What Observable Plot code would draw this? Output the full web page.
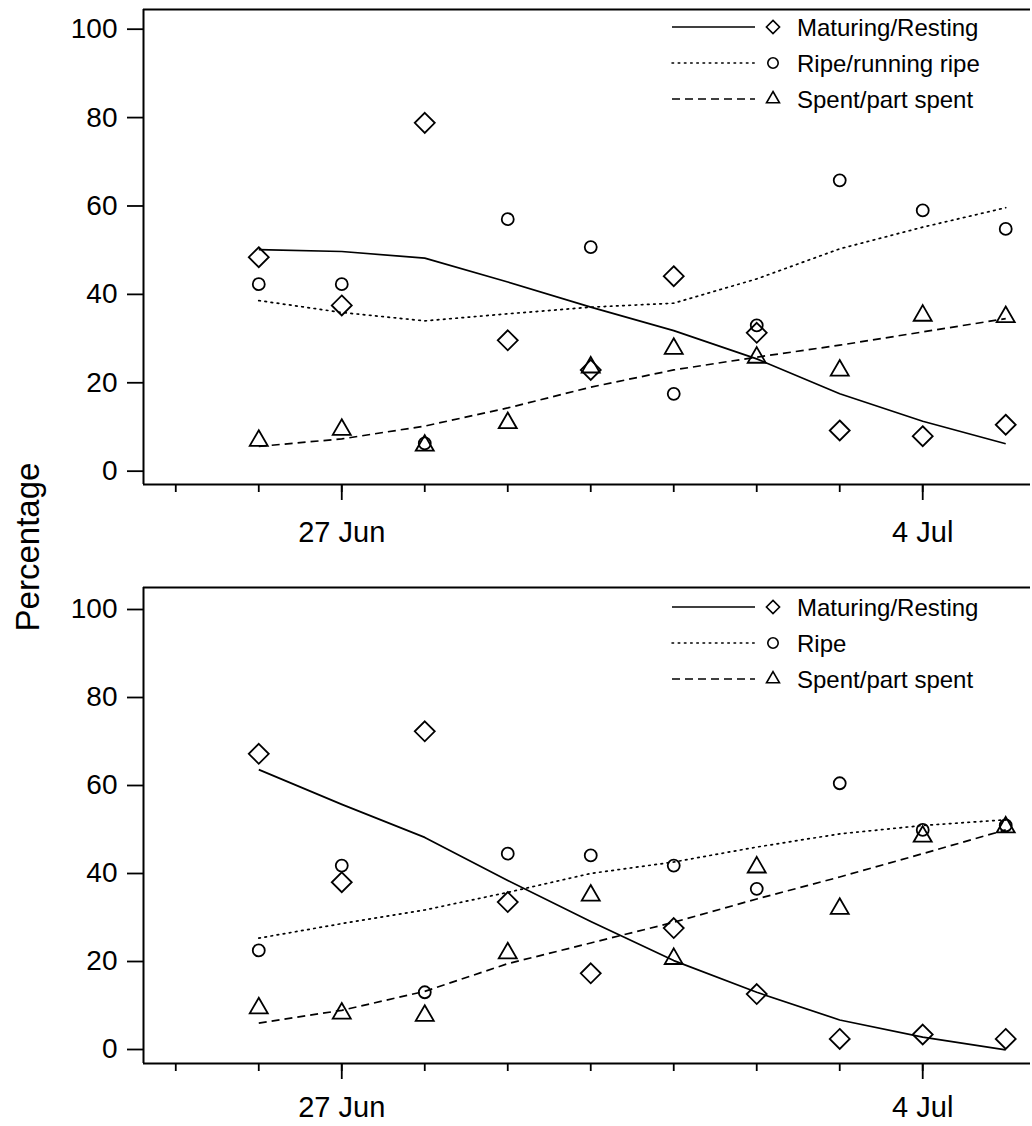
<!DOCTYPE html>
<html><head><meta charset="utf-8">
<script src="https://cdn.jsdelivr.net/npm/d3@7"></script>
<script src="https://cdn.jsdelivr.net/npm/@observablehq/plot@0.6"></script>
<style>
body{margin:0;background:#fff;}
#fig{position:relative;width:1032px;height:1126px;font-family:"Liberation Sans",Arial,Helvetica,sans-serif;background:#fff;overflow:hidden;}
.panel{position:absolute;left:0;}
#ylab{position:absolute;left:28px;top:547px;transform:translate(-50%,-50%) rotate(-90deg);font-size:33px;white-space:nowrap;color:#000;}
#legend{position:absolute;left:0;top:0;pointer-events:none;}
</style></head><body><div id="fig"><div id="ylab">Percentage</div></div>
<script>
// ---- data ----
const dates = ["2000-06-26","2000-06-27","2000-06-28","2000-06-29","2000-06-30","2000-07-01","2000-07-02","2000-07-03","2000-07-04","2000-07-05"];
const minorTickDays = ["2000-06-25","2000-06-26","2000-06-27","2000-06-28","2000-06-29","2000-06-30","2000-07-01","2000-07-02","2000-07-03","2000-07-04"];
const labelTickDays = ["2000-06-27","2000-07-04"];
const yTicks = [0,20,40,60,80,100];
const topNames = ["Maturing/Resting","Ripe/running ripe","Spent/part spent"];
const botNames = ["Maturing/Resting","Ripe","Spent/part spent"];

// top panel: observed percentages
const topMaturing = [47.5,36.6,77.9,28.7,22.0,43.2,30.4,8.3,7.0,9.6];
const topRipe     = [41.4,41.4,5.4,56.1,49.8,16.6,32.1,64.9,58.1,53.9];
const topSpent    = [6.0,8.5,4.9,10.0,22.6,26.8,24.8,21.9,34.3,34.0];
// top panel: fitted curves
const topMaturingFit = [49.2,48.8,47.3,41.9,36.2,30.9,24.5,16.6,10.4,5.3];
const topRipeFit     = [37.7,35.0,33.1,34.7,36.2,37.1,42.6,49.4,54.3,58.7];
const topSpentFit    = [4.7,6.4,9.3,13.4,18.1,22.0,24.9,27.6,30.6,33.6];

// bottom panel: observed percentages
const botMaturing = [66.3,37.1,71.4,32.6,16.4,26.7,11.7,1.5,2.5,1.5];
const botRipe     = [21.6,40.9,12.1,43.6,43.2,40.9,35.6,59.6,49.0,50.0];
const botSpent    = [8.5,7.3,6.8,21.0,34.1,19.7,40.5,31.1,47.5,49.6];
// bottom panel: fitted curves
const botMaturingFit = [62.7,54.8,47.3,37.5,28.2,19.3,12.1,5.8,1.9,-1.0];
const botRipeFit     = [24.4,27.7,30.8,34.8,39.1,41.7,45.1,48.1,50.0,51.3];
const botSpentFit    = [5.1,8.0,12.3,18.6,23.3,28.0,33.3,38.3,43.6,49.0];

// ---- chart ----
const parse = s => new Date(s + "T00:00:00Z");
const X0 = new Date("2000-06-24T14:40:00Z"), X1 = new Date("2000-07-05T07:10:00Z");
const FONT = '"Liberation Sans",Arial,Helvetica,sans-serif';
const styles = [
  {symbol:"diamond2", r:9, dash:null},
  {symbol:"circle", r:6, dash:"1.6,4.6"},
  {symbol:"triangle2", r:8.6, dash:"8,5"}
];
const toRows = arr => arr.map((v,i)=>({date:parse(dates[i]), value:v}));

function panel({obs, fits, yDomain, height, marginTop, marginBottom, top, pad}) {
  const marks = [
    Plot.ruleX([X0], {stroke:"black", strokeWidth:2}),
    Plot.ruleY([yDomain[1]], {stroke:"black", strokeWidth:2}),
    Plot.ruleY([yDomain[0]], {stroke:"black", strokeWidth:2}),
    Plot.axisY({ticks:yTicks, tickSize:16, tickPadding:10, fontSize:28, label:null, strokeWidth:1.8, dy:4}),
    Plot.axisX({ticks:minorTickDays.map(parse), tickSize:8, tickFormat:()=>"", label:null, strokeWidth:1.8}),
    Plot.axisX({ticks:labelTickDays.map(parse), tickSize:16, tickPadding:pad, tickFormat:d3.utcFormat("%-d %b"), fontSize:29, label:null, strokeWidth:1.8})
  ];
  fits.forEach((f,k)=>{
    marks.push(Plot.line(toRows(f), {x:"date", y:"value", stroke:"black", strokeWidth:1.7,
      strokeDasharray: styles[k].dash || undefined, strokeLinecap: k===1 ? "round" : "butt"}));
  });
  obs.forEach((o,k)=>{
    marks.push(Plot.dot(toRows(o), {x:"date", y:"value", symbol:styles[k].symbol, r:styles[k].r,
      stroke:"black", strokeWidth:1.8, fill:"none"}));
  });
  const chart = Plot.plot({
    width:1032, height, marginLeft:143, marginRight:2, marginTop, marginBottom,
    x:{type:"utc", domain:[X0,X1]},
    y:{domain:yDomain},
    style:{fontFamily:FONT, fontSize:"28px", color:"black", background:"transparent", overflow:"visible"},
    marks
  });
  chart.classList.add("panel");
  chart.style.top = top + "px";
  document.getElementById("fig").appendChild(chart);
}

panel({obs:[topMaturing,topRipe,topSpent], fits:[topMaturingFit,topRipeFit,topSpentFit],
  yDomain:[-3.92,103.55], height:580, marginTop:9, marginBottom:96, top:0, pad:21});
panel({obs:[botMaturing,botRipe,botSpent], fits:[botMaturingFit,botRipeFit,botSpentFit],
  yDomain:[-4.09,104.09], height:546, marginTop:7, marginBottom:63, top:580, pad:17});

// ---- legends ----
const svg = d3.select("#fig").append("svg").attr("id","legend").attr("width",1032).attr("height",1126);
function legend(names, rowsY) {
  const sizes = [{sym:d3.symbolDiamond2, size:110},{sym:d3.symbolCircle, size:85},{sym:d3.symbolTriangle2, size:120}];
  names.forEach((name,k)=>{
    const y = rowsY[k];
    const g = svg.append("g");
    g.append("line").attr("x1",672).attr("x2",755).attr("y1",y).attr("y2",y)
      .attr("stroke","black").attr("stroke-width",1.5)
      .attr("stroke-dasharray", styles[k].dash || null)
      .attr("stroke-linecap", k===1 ? "round" : "butt");
    g.append("path").attr("d", d3.symbol(sizes[k].sym, sizes[k].size)())
      .attr("transform",`translate(773,${y})`).attr("fill","none").attr("stroke","black").attr("stroke-width",1.6);
    g.append("text").attr("x",797).attr("y",y+8.5).attr("font-size",24).attr("font-family",FONT).attr("fill","black").text(name);
  });
}
legend(topNames,[27,63,99]);
legend(botNames,[607,643,679]);
</script></body></html>
